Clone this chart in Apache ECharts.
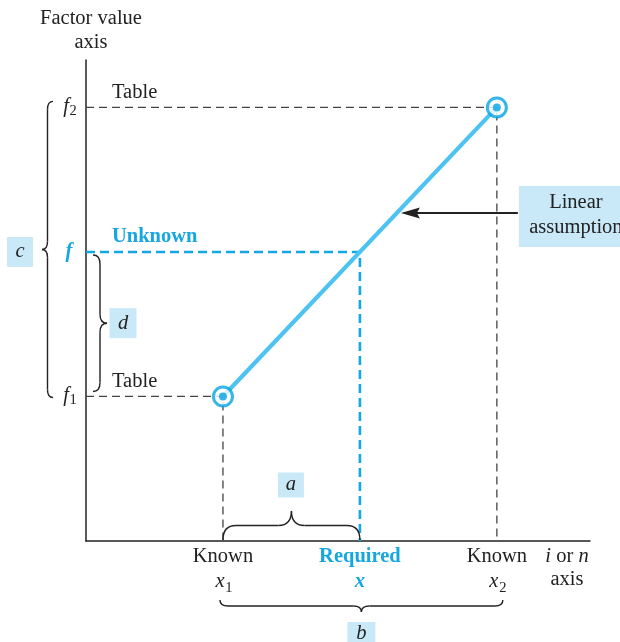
<!DOCTYPE html>
<html><head><meta charset="utf-8">
<script src="https://cdn.jsdelivr.net/npm/echarts@6/dist/echarts.min.js"></script>
<style>html,body{margin:0;padding:0;background:#fff}#c{width:620px;height:642px}</style>
</head><body><div id="c"></div>
<script>
// ---- data ----
const knownX = [10, 20];          // x1, x2
const knownF = [10, 20];          // f1, f2
const requiredX = 15;             // x
const unknownF = 15;              // f
const xTopLabels = ['Known', 'Required', 'Known'];
const xSymbolSubs = ['1', '', '2'];
const fSubs = ['1', '', '2'];
const braceNames = ['a', 'b', 'c', 'd'];
const arrowFraction = 0.635;      // where the "Linear assumption" arrow touches the line
const X_MIN = 5, X_MAX = 23.4, Y_MIN = 5, Y_MAX = 21.64;

const SERIF = '"Liberation Serif", "DejaVu Serif", serif';
const BLUE_TXT = '#17a7e0';
const BLUE_LINE = '#4cc3f0';
const RING = '#02a4e3';
const BOX = '#c9e9f8';
const INK = '#222';
const FS = 20.5;

const chart = echarts.init(document.getElementById('c'), null, {renderer: 'canvas'});
const axisCommon = {
  type: 'value', axisTick: {show: false}, axisLabel: {show: false}, splitLine: {show: false},
  axisLine: {show: true, lineStyle: {color: INK, width: 1.5}}
};
chart.setOption({
  animation: false,
  backgroundColor: '#fff',
  grid: {left: 86, top: 60, width: 504, height: 481},
  xAxis: Object.assign({min: X_MIN, max: X_MAX}, axisCommon),
  yAxis: Object.assign({min: Y_MIN, max: Y_MAX}, axisCommon),
  series: [
    {
      type: 'custom', name: 'guides', z: 1,
      data: [[knownX[0], knownF[0], 0], [knownX[1], knownF[1], 0], [requiredX, unknownF, 1]],
      renderItem: function (params, api) {
        const x = api.value(0), y = api.value(1), blue = api.value(2) === 1;
        const a = api.coord([X_MIN, y]), b = api.coord([x, y]), c = api.coord([x, Y_MIN]);
        return {
          type: 'polyline',
          shape: {points: [a, b, c]},
          style: {stroke: blue ? '#13a8e3' : '#444', lineWidth: blue ? 2.6 : 1.3,
                  lineDash: blue ? [9, 5] : [8, 5], fill: null}
        };
      }
    },
    {
      type: 'line', name: 'Linear assumption', z: 3, symbol: 'none', silent: true,
      data: [[knownX[0], knownF[0]], [knownX[1], knownF[1]]],
      lineStyle: {color: BLUE_LINE, width: 4.2}
    },
    {
      type: 'scatter', z: 4, symbol: 'circle', symbolSize: 19,
      data: [[knownX[0], knownF[0]], [knownX[1], knownF[1]]],
      itemStyle: {color: '#fff', borderColor: RING, borderWidth: 3}
    },
    {
      type: 'scatter', z: 5, symbol: 'circle', symbolSize: 8,
      data: [[knownX[0], knownF[0]], [knownX[1], knownF[1]]],
      itemStyle: {color: RING}
    }
  ]
});

function px(x, y) { return chart.convertToPixel({gridIndex: 0}, [x, y]); }

function txt(text, x, y, o) {
  o = o || {};
  return {
    type: 'text', z: 10, silent: true,
    style: {
      text: text, x: x, y: y,
      fontSize: o.size || FS, fontFamily: SERIF,
      fontStyle: o.italic ? 'italic' : 'normal',
      fontWeight: o.bold ? 'bold' : 'normal',
      fill: o.color || INK,
      align: o.align || 'center', textAlign: o.align || 'center',
      verticalAlign: 'middle', textVerticalAlign: 'middle',
      rich: o.rich
    }
  };
}
function box(cx, cy, w, h) {
  return {type: 'rect', z: 8, silent: true, shape: {x: cx - w / 2, y: cy - h / 2, width: w, height: h},
          style: {fill: BOX}};
}
// curly brace from p0 to p1, tip offset by h along unit normal n
function brace(p0, p1, n, h, r) {
  const L = Math.hypot(p1[0] - p0[0], p1[1] - p0[1]);
  const d = [(p1[0] - p0[0]) / L, (p1[1] - p0[1]) / L];
  const P = (t, k) => [p0[0] + d[0] * t + n[0] * k, p0[1] + d[1] * t + n[1] * k];
  const m = L / 2, k = h / 2;
  const st = {stroke: INK, lineWidth: 1.4, fill: null};
  const q = (a, c, b) => ({type: 'bezierCurve', z: 9, silent: true,
    shape: {x1: a[0], y1: a[1], cpx1: c[0], cpy1: c[1], x2: b[0], y2: b[1]}, style: st});
  const l = (a, b) => ({type: 'line', z: 9, silent: true,
    shape: {x1: a[0], y1: a[1], x2: b[0], y2: b[1]}, style: st});
  return [
    q(P(0, 0), P(0, k), P(r, k)),
    l(P(r, k), P(m - r, k)),
    q(P(m - r, k), P(m, k), P(m, h)),
    q(P(m, h), P(m, k), P(m + r, k)),
    l(P(m + r, k), P(L - r, k)),
    q(P(L - r, k), P(L, k), P(L, 0))
  ];
}

let g = [];
const yTop = px(X_MIN, Y_MAX);
const xEnd = px(X_MAX, Y_MIN);

// axis titles
g.push(txt('Factor value', yTop[0] + 5, yTop[1] - 41));
g.push(txt('axis', yTop[0] + 5, yTop[1] - 17));
g.push(txt('{it|i} or {it|n}', xEnd[0] - 23, xEnd[1] + 16,
  {rich: {it: {fontStyle: 'italic', fontFamily: SERIF, fontSize: FS, fill: INK}}}));
g.push(txt('axis', xEnd[0] - 23, xEnd[1] + 39));

// x-axis labels
const xs = [knownX[0], requiredX, knownX[1]];
xs.forEach((xv, i) => {
  const p = px(xv, Y_MIN);
  const blue = i === 1;
  g.push(txt(xTopLabels[i], p[0], p[1] + 16, {bold: blue, color: blue ? BLUE_TXT : INK}));
  if (blue) {
    g.push(txt('x', p[0], p[1] + 41, {bold: true, italic: true, color: BLUE_TXT}));
  } else {
    g.push(txt('x', p[0] - 3, p[1] + 41, {italic: true}));
    g.push(txt(xSymbolSubs[i], p[0] + 6, p[1] + 47, {size: 14.5}));
  }
});

// y-axis labels
const fs = [knownF[0], unknownF, knownF[1]];
fs.forEach((fv, i) => {
  const p = px(X_MIN, fv);
  if (i === 1) {
    g.push(txt('f', p[0] - 17, p[1], {bold: true, italic: true, color: BLUE_TXT}));
  } else {
    g.push(txt('f', p[0] - 20, p[1] - 1, {italic: true}));
    g.push(txt(fSubs[i], p[0] - 13, p[1] + 4, {size: 14.5}));
  }
});

// "Table" / "Unknown"
const pf2 = px(X_MIN, knownF[1]), pf1 = px(X_MIN, knownF[0]), pf = px(X_MIN, unknownF);
g.push(txt('Table', pf2[0] + 26, pf2[1] - 15, {align: 'left'}));
g.push(txt('Table', pf1[0] + 26, pf1[1] - 15, {align: 'left'}));
g.push(txt('Unknown', pf[0] + 26, pf[1] - 15, {align: 'left', bold: true, color: BLUE_TXT}));

// braces
const px1 = px(knownX[0], Y_MIN), pxr = px(requiredX, Y_MIN), px2 = px(knownX[1], Y_MIN);
// a
g = g.concat(brace([px1[0], px1[1] - 1], [pxr[0], pxr[1] - 1], [0, -1], 29, 13));
const aMid = (px1[0] + pxr[0]) / 2;
g.push(box(aMid - 0.5, px1[1] - 56, 26, 25));
g.push(txt(braceNames[0], aMid - 0.5, px1[1] - 56, {italic: true}));
// b
g = g.concat(brace([px1[0] - 3, px1[1] + 59], [px2[0] + 6, px2[1] + 59], [0, 1], 12, 8));
const bMid = (px1[0] - 3 + px2[0] + 6) / 2;
g.push(box(bMid, px1[1] + 92, 28, 22));
g.push(txt(braceNames[1], bMid, px1[1] + 93, {italic: true}));
// c
g = g.concat(brace([pf2[0] - 33, pf2[1] - 6], [pf1[0] - 33, pf1[1] + 1], [-1, 0], 11, 8));
g.push(box(20, pf[1], 26, 30));
g.push(txt(braceNames[2], 20, pf[1], {italic: true}));
// d
g = g.concat(brace([pf[0] + 7, pf[1] + 3], [pf1[0] + 7, pf1[1] - 5], [1, 0], 14, 9));
const dMid = (pf[1] + 3 + pf1[1] - 5) / 2;
g.push(box(pf[0] + 37, dMid, 27, 30));
g.push(txt(braceNames[3], pf[0] + 37, dMid, {italic: true}));

// Linear assumption arrow + box
const tipData = [knownX[0] + (knownX[1] - knownX[0]) * arrowFraction,
                 knownF[0] + (knownF[1] - knownF[0]) * arrowFraction];
const tp = px(tipData[0], tipData[1]);
const tipX = tp[0] + 4, tipY = tp[1];
g.push({type: 'line', z: 7, silent: true, shape: {x1: tipX + 14, y1: tipY, x2: tipX + 117, y2: tipY},
        style: {stroke: INK, lineWidth: 2}});
g.push({type: 'polygon', z: 7, silent: true,
        shape: {points: [[tipX, tipY], [tipX + 19, tipY - 5.5], [tipX + 16, tipY], [tipX + 19, tipY + 5.5]]},
        style: {fill: INK}});
g.push({type: 'rect', z: 8, silent: true, shape: {x: tipX + 118, y: tipY - 27, width: 120, height: 61},
        style: {fill: BOX}});
g.push(txt('Linear', tipX + 175, tipY - 10));
g.push(txt('assumption', tipX + 175, tipY + 15));

chart.setOption({graphic: {elements: g}});
</script>
</body></html>
